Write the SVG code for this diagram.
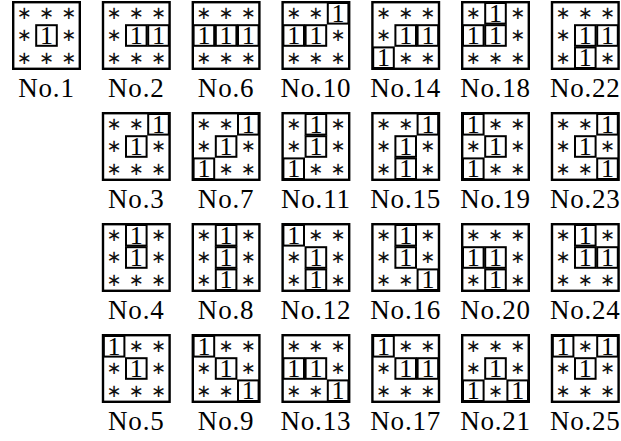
<svg xmlns="http://www.w3.org/2000/svg" width="621" height="441" viewBox="0 0 621 441">
<style>
.f{fill:none;stroke:#000;stroke-width:2.4}
.b{fill:none;stroke:#000;stroke-width:2}
.s{font-family:"DejaVu Sans",sans-serif;font-size:18px;text-anchor:middle;fill:#111}
.o{font-family:"Liberation Serif",serif;font-size:26px;text-anchor:middle;fill:#000}
.l{font-family:"Liberation Serif",serif;font-size:27px;letter-spacing:0.8px;text-anchor:middle;fill:#000}
</style>
<rect width="621" height="441" fill="#fff"/>
<g id="connectors"/>
<!-- Row 1 -->
<g id="no1" transform="translate(12,1)">
<rect class="f" x="1.2" y="1.2" width="66.6" height="66.6"/>
<rect class="b" x="24.2" y="24.2" width="20.6" height="20.6"/>
<text class="s" x="12.3 34.5 56.7" y="18.1">∗∗∗</text>
<text class="s" x="12.3 56.7" y="40.3">∗∗</text>
<text class="o" x="34.5" y="43">1</text>
<text class="s" x="12.3 34.5 56.7" y="62.5">∗∗∗</text>
<text class="l" x="34.5" y="96">No.1</text>
</g>
<g id="no2" transform="translate(101.8,1)">
<rect class="f" x="1.2" y="1.2" width="66.6" height="66.6"/>
<rect class="b" x="24.2" y="24.2" width="20.6" height="20.6"/>
<rect class="b" x="46.4" y="24.2" width="20.6" height="20.6"/>
<text class="s" x="12.3 34.5 56.7" y="18.1">∗∗∗</text>
<text class="s" x="12.3" y="40.3">∗</text>
<text class="o" x="34.5 56.7" y="43">11</text>
<text class="s" x="12.3 34.5 56.7" y="62.5">∗∗∗</text>
<text class="l" x="34.5" y="96">No.2</text>
</g>
<g id="no6" transform="translate(191.6,1)">
<rect class="f" x="1.2" y="1.2" width="66.6" height="66.6"/>
<rect class="b" x="2" y="24.2" width="20.6" height="20.6"/>
<rect class="b" x="24.2" y="24.2" width="20.6" height="20.6"/>
<rect class="b" x="46.4" y="24.2" width="20.6" height="20.6"/>
<text class="s" x="12.3 34.5 56.7" y="18.1">∗∗∗</text>
<text class="o" x="12.3 34.5 56.7" y="43">111</text>
<text class="s" x="12.3 34.5 56.7" y="62.5">∗∗∗</text>
<text class="l" x="34.5" y="96">No.6</text>
</g>
<g id="no10" transform="translate(281.4,1)">
<rect class="f" x="1.2" y="1.2" width="66.6" height="66.6"/>
<rect class="b" x="46.4" y="2" width="20.6" height="20.6"/>
<rect class="b" x="2" y="24.2" width="20.6" height="20.6"/>
<rect class="b" x="24.2" y="24.2" width="20.6" height="20.6"/>
<text class="s" x="12.3 34.5" y="18.1">∗∗</text>
<text class="o" x="56.7" y="20.8">1</text>
<text class="o" x="12.3 34.5" y="43">11</text>
<text class="s" x="56.7" y="40.3">∗</text>
<text class="s" x="12.3 34.5 56.7" y="62.5">∗∗∗</text>
<text class="l" x="34.5" y="96">No.10</text>
</g>
<g id="no14" transform="translate(371.2,1)">
<rect class="f" x="1.2" y="1.2" width="66.6" height="66.6"/>
<rect class="b" x="24.2" y="24.2" width="20.6" height="20.6"/>
<rect class="b" x="46.4" y="24.2" width="20.6" height="20.6"/>
<rect class="b" x="2" y="46.4" width="20.6" height="20.6"/>
<text class="s" x="12.3 34.5 56.7" y="18.1">∗∗∗</text>
<text class="s" x="12.3" y="40.3">∗</text>
<text class="o" x="34.5 56.7" y="43">11</text>
<text class="o" x="12.3" y="65.2">1</text>
<text class="s" x="34.5 56.7" y="62.5">∗∗</text>
<text class="l" x="34.5" y="96">No.14</text>
</g>
<g id="no18" transform="translate(461,1)">
<rect class="f" x="1.2" y="1.2" width="66.6" height="66.6"/>
<rect class="b" x="24.2" y="2" width="20.6" height="20.6"/>
<rect class="b" x="2" y="24.2" width="20.6" height="20.6"/>
<rect class="b" x="24.2" y="24.2" width="20.6" height="20.6"/>
<text class="s" x="12.3 56.7" y="18.1">∗∗</text>
<text class="o" x="34.5" y="20.8">1</text>
<text class="o" x="12.3 34.5" y="43">11</text>
<text class="s" x="56.7" y="40.3">∗</text>
<text class="s" x="12.3 34.5 56.7" y="62.5">∗∗∗</text>
<text class="l" x="34.5" y="96">No.18</text>
</g>
<g id="no22" transform="translate(550.8,1)">
<rect class="f" x="1.2" y="1.2" width="66.6" height="66.6"/>
<rect class="b" x="24.2" y="24.2" width="20.6" height="20.6"/>
<rect class="b" x="46.4" y="24.2" width="20.6" height="20.6"/>
<rect class="b" x="24.2" y="46.4" width="20.6" height="20.6"/>
<text class="s" x="12.3 34.5 56.7" y="18.1">∗∗∗</text>
<text class="s" x="12.3" y="40.3">∗</text>
<text class="o" x="34.5 56.7" y="43">11</text>
<text class="s" x="12.3 56.7" y="62.5">∗∗</text>
<text class="o" x="34.5" y="65.2">1</text>
<text class="l" x="34.5" y="96">No.22</text>
</g>
<!-- Row 2 -->
<g id="no3" transform="translate(101.8,112)">
<rect class="f" x="1.2" y="1.2" width="66.6" height="66.6"/>
<rect class="b" x="46.4" y="2" width="20.6" height="20.6"/>
<rect class="b" x="24.2" y="24.2" width="20.6" height="20.6"/>
<text class="s" x="12.3 34.5" y="18.1">∗∗</text>
<text class="o" x="56.7" y="20.8">1</text>
<text class="s" x="12.3 56.7" y="40.3">∗∗</text>
<text class="o" x="34.5" y="43">1</text>
<text class="s" x="12.3 34.5 56.7" y="62.5">∗∗∗</text>
<text class="l" x="34.5" y="96">No.3</text>
</g>
<g id="no7" transform="translate(191.6,112)">
<rect class="f" x="1.2" y="1.2" width="66.6" height="66.6"/>
<rect class="b" x="46.4" y="2" width="20.6" height="20.6"/>
<rect class="b" x="24.2" y="24.2" width="20.6" height="20.6"/>
<rect class="b" x="2" y="46.4" width="20.6" height="20.6"/>
<text class="s" x="12.3 34.5" y="18.1">∗∗</text>
<text class="o" x="56.7" y="20.8">1</text>
<text class="s" x="12.3 56.7" y="40.3">∗∗</text>
<text class="o" x="34.5" y="43">1</text>
<text class="o" x="12.3" y="65.2">1</text>
<text class="s" x="34.5 56.7" y="62.5">∗∗</text>
<text class="l" x="34.5" y="96">No.7</text>
</g>
<g id="no11" transform="translate(281.4,112)">
<rect class="f" x="1.2" y="1.2" width="66.6" height="66.6"/>
<rect class="b" x="24.2" y="2" width="20.6" height="20.6"/>
<rect class="b" x="24.2" y="24.2" width="20.6" height="20.6"/>
<rect class="b" x="2" y="46.4" width="20.6" height="20.6"/>
<text class="s" x="12.3 56.7" y="18.1">∗∗</text>
<text class="o" x="34.5" y="20.8">1</text>
<text class="s" x="12.3 56.7" y="40.3">∗∗</text>
<text class="o" x="34.5" y="43">1</text>
<text class="o" x="12.3" y="65.2">1</text>
<text class="s" x="34.5 56.7" y="62.5">∗∗</text>
<text class="l" x="34.5" y="96">No.11</text>
</g>
<g id="no15" transform="translate(371.2,112)">
<rect class="f" x="1.2" y="1.2" width="66.6" height="66.6"/>
<rect class="b" x="46.4" y="2" width="20.6" height="20.6"/>
<rect class="b" x="24.2" y="24.2" width="20.6" height="20.6"/>
<rect class="b" x="24.2" y="46.4" width="20.6" height="20.6"/>
<text class="s" x="12.3 34.5" y="18.1">∗∗</text>
<text class="o" x="56.7" y="20.8">1</text>
<text class="s" x="12.3 56.7" y="40.3">∗∗</text>
<text class="o" x="34.5" y="43">1</text>
<text class="s" x="12.3 56.7" y="62.5">∗∗</text>
<text class="o" x="34.5" y="65.2">1</text>
<text class="l" x="34.5" y="96">No.15</text>
</g>
<g id="no19" transform="translate(461,112)">
<rect class="f" x="1.2" y="1.2" width="66.6" height="66.6"/>
<rect class="b" x="2" y="2" width="20.6" height="20.6"/>
<rect class="b" x="24.2" y="24.2" width="20.6" height="20.6"/>
<rect class="b" x="2" y="46.4" width="20.6" height="20.6"/>
<text class="o" x="12.3" y="20.8">1</text>
<text class="s" x="34.5 56.7" y="18.1">∗∗</text>
<text class="s" x="12.3 56.7" y="40.3">∗∗</text>
<text class="o" x="34.5" y="43">1</text>
<text class="o" x="12.3" y="65.2">1</text>
<text class="s" x="34.5 56.7" y="62.5">∗∗</text>
<text class="l" x="34.5" y="96">No.19</text>
</g>
<g id="no23" transform="translate(550.8,112)">
<rect class="f" x="1.2" y="1.2" width="66.6" height="66.6"/>
<rect class="b" x="46.4" y="2" width="20.6" height="20.6"/>
<rect class="b" x="24.2" y="24.2" width="20.6" height="20.6"/>
<rect class="b" x="46.4" y="46.4" width="20.6" height="20.6"/>
<text class="s" x="12.3 34.5" y="18.1">∗∗</text>
<text class="o" x="56.7" y="20.8">1</text>
<text class="s" x="12.3 56.7" y="40.3">∗∗</text>
<text class="o" x="34.5" y="43">1</text>
<text class="s" x="12.3 34.5" y="62.5">∗∗</text>
<text class="o" x="56.7" y="65.2">1</text>
<text class="l" x="34.5" y="96">No.23</text>
</g>
<!-- Row 3 -->
<g id="no4" transform="translate(101.8,223)">
<rect class="f" x="1.2" y="1.2" width="66.6" height="66.6"/>
<rect class="b" x="24.2" y="2" width="20.6" height="20.6"/>
<rect class="b" x="24.2" y="24.2" width="20.6" height="20.6"/>
<text class="s" x="12.3 56.7" y="18.1">∗∗</text>
<text class="o" x="34.5" y="20.8">1</text>
<text class="s" x="12.3 56.7" y="40.3">∗∗</text>
<text class="o" x="34.5" y="43">1</text>
<text class="s" x="12.3 34.5 56.7" y="62.5">∗∗∗</text>
<text class="l" x="34.5" y="96">No.4</text>
</g>
<g id="no8" transform="translate(191.6,223)">
<rect class="f" x="1.2" y="1.2" width="66.6" height="66.6"/>
<rect class="b" x="24.2" y="2" width="20.6" height="20.6"/>
<rect class="b" x="24.2" y="24.2" width="20.6" height="20.6"/>
<rect class="b" x="24.2" y="46.4" width="20.6" height="20.6"/>
<text class="s" x="12.3 56.7" y="18.1">∗∗</text>
<text class="o" x="34.5" y="20.8">1</text>
<text class="s" x="12.3 56.7" y="40.3">∗∗</text>
<text class="o" x="34.5" y="43">1</text>
<text class="s" x="12.3 56.7" y="62.5">∗∗</text>
<text class="o" x="34.5" y="65.2">1</text>
<text class="l" x="34.5" y="96">No.8</text>
</g>
<g id="no12" transform="translate(281.4,223)">
<rect class="f" x="1.2" y="1.2" width="66.6" height="66.6"/>
<rect class="b" x="2" y="2" width="20.6" height="20.6"/>
<rect class="b" x="24.2" y="24.2" width="20.6" height="20.6"/>
<rect class="b" x="24.2" y="46.4" width="20.6" height="20.6"/>
<text class="o" x="12.3" y="20.8">1</text>
<text class="s" x="34.5 56.7" y="18.1">∗∗</text>
<text class="s" x="12.3 56.7" y="40.3">∗∗</text>
<text class="o" x="34.5" y="43">1</text>
<text class="s" x="12.3 56.7" y="62.5">∗∗</text>
<text class="o" x="34.5" y="65.2">1</text>
<text class="l" x="34.5" y="96">No.12</text>
</g>
<g id="no16" transform="translate(371.2,223)">
<rect class="f" x="1.2" y="1.2" width="66.6" height="66.6"/>
<rect class="b" x="24.2" y="2" width="20.6" height="20.6"/>
<rect class="b" x="24.2" y="24.2" width="20.6" height="20.6"/>
<rect class="b" x="46.4" y="46.4" width="20.6" height="20.6"/>
<text class="s" x="12.3 56.7" y="18.1">∗∗</text>
<text class="o" x="34.5" y="20.8">1</text>
<text class="s" x="12.3 56.7" y="40.3">∗∗</text>
<text class="o" x="34.5" y="43">1</text>
<text class="s" x="12.3 34.5" y="62.5">∗∗</text>
<text class="o" x="56.7" y="65.2">1</text>
<text class="l" x="34.5" y="96">No.16</text>
</g>
<g id="no20" transform="translate(461,223)">
<rect class="f" x="1.2" y="1.2" width="66.6" height="66.6"/>
<rect class="b" x="2" y="24.2" width="20.6" height="20.6"/>
<rect class="b" x="24.2" y="24.2" width="20.6" height="20.6"/>
<rect class="b" x="24.2" y="46.4" width="20.6" height="20.6"/>
<text class="s" x="12.3 34.5 56.7" y="18.1">∗∗∗</text>
<text class="o" x="12.3 34.5" y="43">11</text>
<text class="s" x="56.7" y="40.3">∗</text>
<text class="s" x="12.3 56.7" y="62.5">∗∗</text>
<text class="o" x="34.5" y="65.2">1</text>
<text class="l" x="34.5" y="96">No.20</text>
</g>
<g id="no24" transform="translate(550.8,223)">
<rect class="f" x="1.2" y="1.2" width="66.6" height="66.6"/>
<rect class="b" x="24.2" y="2" width="20.6" height="20.6"/>
<rect class="b" x="24.2" y="24.2" width="20.6" height="20.6"/>
<rect class="b" x="46.4" y="24.2" width="20.6" height="20.6"/>
<text class="s" x="12.3 56.7" y="18.1">∗∗</text>
<text class="o" x="34.5" y="20.8">1</text>
<text class="s" x="12.3" y="40.3">∗</text>
<text class="o" x="34.5 56.7" y="43">11</text>
<text class="s" x="12.3 34.5 56.7" y="62.5">∗∗∗</text>
<text class="l" x="34.5" y="96">No.24</text>
</g>
<!-- Row 4 -->
<g id="no5" transform="translate(101.8,334)">
<rect class="f" x="1.2" y="1.2" width="66.6" height="66.6"/>
<rect class="b" x="2" y="2" width="20.6" height="20.6"/>
<rect class="b" x="24.2" y="24.2" width="20.6" height="20.6"/>
<text class="o" x="12.3" y="20.8">1</text>
<text class="s" x="34.5 56.7" y="18.1">∗∗</text>
<text class="s" x="12.3 56.7" y="40.3">∗∗</text>
<text class="o" x="34.5" y="43">1</text>
<text class="s" x="12.3 34.5 56.7" y="62.5">∗∗∗</text>
<text class="l" x="34.5" y="96">No.5</text>
</g>
<g id="no9" transform="translate(191.6,334)">
<rect class="f" x="1.2" y="1.2" width="66.6" height="66.6"/>
<rect class="b" x="2" y="2" width="20.6" height="20.6"/>
<rect class="b" x="24.2" y="24.2" width="20.6" height="20.6"/>
<rect class="b" x="46.4" y="46.4" width="20.6" height="20.6"/>
<text class="o" x="12.3" y="20.8">1</text>
<text class="s" x="34.5 56.7" y="18.1">∗∗</text>
<text class="s" x="12.3 56.7" y="40.3">∗∗</text>
<text class="o" x="34.5" y="43">1</text>
<text class="s" x="12.3 34.5" y="62.5">∗∗</text>
<text class="o" x="56.7" y="65.2">1</text>
<text class="l" x="34.5" y="96">No.9</text>
</g>
<g id="no13" transform="translate(281.4,334)">
<rect class="f" x="1.2" y="1.2" width="66.6" height="66.6"/>
<rect class="b" x="2" y="24.2" width="20.6" height="20.6"/>
<rect class="b" x="24.2" y="24.2" width="20.6" height="20.6"/>
<rect class="b" x="46.4" y="46.4" width="20.6" height="20.6"/>
<text class="s" x="12.3 34.5 56.7" y="18.1">∗∗∗</text>
<text class="o" x="12.3 34.5" y="43">11</text>
<text class="s" x="56.7" y="40.3">∗</text>
<text class="s" x="12.3 34.5" y="62.5">∗∗</text>
<text class="o" x="56.7" y="65.2">1</text>
<text class="l" x="34.5" y="96">No.13</text>
</g>
<g id="no17" transform="translate(371.2,334)">
<rect class="f" x="1.2" y="1.2" width="66.6" height="66.6"/>
<rect class="b" x="2" y="2" width="20.6" height="20.6"/>
<rect class="b" x="24.2" y="24.2" width="20.6" height="20.6"/>
<rect class="b" x="46.4" y="24.2" width="20.6" height="20.6"/>
<text class="o" x="12.3" y="20.8">1</text>
<text class="s" x="34.5 56.7" y="18.1">∗∗</text>
<text class="s" x="12.3" y="40.3">∗</text>
<text class="o" x="34.5 56.7" y="43">11</text>
<text class="s" x="12.3 34.5 56.7" y="62.5">∗∗∗</text>
<text class="l" x="34.5" y="96">No.17</text>
</g>
<g id="no21" transform="translate(461,334)">
<rect class="f" x="1.2" y="1.2" width="66.6" height="66.6"/>
<rect class="b" x="24.2" y="24.2" width="20.6" height="20.6"/>
<rect class="b" x="2" y="46.4" width="20.6" height="20.6"/>
<rect class="b" x="46.4" y="46.4" width="20.6" height="20.6"/>
<text class="s" x="12.3 34.5 56.7" y="18.1">∗∗∗</text>
<text class="s" x="12.3 56.7" y="40.3">∗∗</text>
<text class="o" x="34.5" y="43">1</text>
<text class="o" x="12.3 56.7" y="65.2">11</text>
<text class="s" x="34.5" y="62.5">∗</text>
<text class="l" x="34.5" y="96">No.21</text>
</g>
<g id="no25" transform="translate(550.8,334)">
<rect class="f" x="1.2" y="1.2" width="66.6" height="66.6"/>
<rect class="b" x="2" y="2" width="20.6" height="20.6"/>
<rect class="b" x="46.4" y="2" width="20.6" height="20.6"/>
<rect class="b" x="24.2" y="24.2" width="20.6" height="20.6"/>
<text class="o" x="12.3 56.7" y="20.8">11</text>
<text class="s" x="34.5" y="18.1">∗</text>
<text class="s" x="12.3 56.7" y="40.3">∗∗</text>
<text class="o" x="34.5" y="43">1</text>
<text class="s" x="12.3 34.5 56.7" y="62.5">∗∗∗</text>
<text class="l" x="34.5" y="96">No.25</text>
</g>
</svg>
